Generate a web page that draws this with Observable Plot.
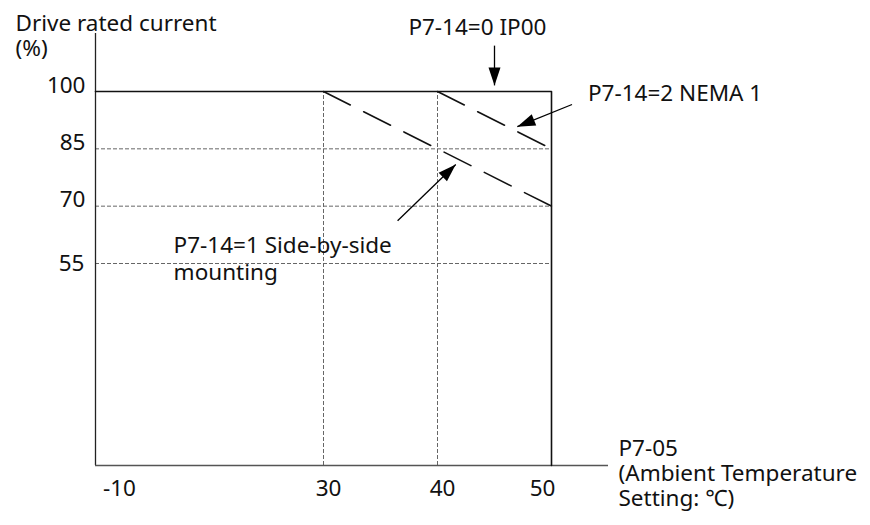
<!DOCTYPE html>
<html><head><meta charset="utf-8">
<script src="https://cdn.jsdelivr.net/npm/d3@7"></script>
<script src="https://cdn.jsdelivr.net/npm/@observablehq/plot@0.6"></script>
<style>body{margin:0;background:#fff} svg{display:block}</style>
</head><body><div id="chart"></div>
<script>
// ---- data ----
const xTicks = [-10, 30, 40, 50];
const yTicks = [100, 85, 70, 55];
const gridX = [30, 40];
const gridY = [85, 70, 55];
const ip00 = [{t: -10, c: 100}, {t: 50, c: 100}, {t: 50, c: 0}];
const nema1 = [{t: 40, c: 100}, {t: 50, c: 85}];
const sideBySide = [{t: 30, c: 100}, {t: 50, c: 70}];
const annotations = [
  {label: "P7-14=0 IP00", tx: 43.5, ty: 114.7, anchor: "middle", x1: 45, y1: 112, x2: 45, y2: 101.6},
  {label: "P7-14=2 NEMA 1", tx: 53.2, ty: 97.6, anchor: "start", x1: 51.8, y1: 96.6, x2: 47.0, y2: 90.8},
  {label: "P7-14=1 Side-by-side\nmounting", tx: 3.7, ty: 50.4, anchor: "start", x1: 36.5, y1: 66.2, x2: 41.6, y2: 80.9}
];
const yTitle = "Drive rated current\n(%)";
const xTitle = "P7-05\n(Ambient Temperature\nSetting: ℃)";

// ---- scales ----
const xOpt = {type: "linear", domain: [-10, 30, 50], range: [95, 323, 551]};
const yOpt = {type: "linear", domain: [0, 55, 100], range: [465, 263, 91]};
const sx = Plot.scale({x: xOpt});
const sy = Plot.scale({y: yOpt});
annotations.forEach(a => {
  const dx = sx.apply(a.x2) - sx.apply(a.x1);
  const dy = sy.apply(a.y2) - sy.apply(a.y1);
  a.rot = Math.atan2(dx, -dy) * 180 / Math.PI;
});
const head = {draw(ctx) { ctx.moveTo(0, 0); ctx.lineTo(6, 18); ctx.lineTo(-6, 18); ctx.closePath(); }};

const FONT = "'Noto Sans','Noto Sans CJK TC',sans-serif";
const FS = 22.5;
const T = {fontSize: FS, fill: "#111"};

const chart = Plot.plot({
  width: 870, height: 525,
  marginTop: 0, marginRight: 0, marginBottom: 0, marginLeft: 0,
  x: {...xOpt, axis: null},
  y: {...yOpt, axis: null},
  style: {fontFamily: FONT, fontSize: FS + "px", background: "#fff", color: "#000"},
  marks: [
    Plot.ruleX(gridX, {y1: 0, y2: 100, stroke: "#666", strokeWidth: 1, strokeDasharray: "4,2"}),
    Plot.ruleY(gridY, {x1: -10, x2: 50, stroke: "#666", strokeWidth: 1, strokeDasharray: "4,2"}),
    Plot.ruleX([-10], {y1: 0, y2: 115.2, stroke: "#222", strokeWidth: 1.3}),
    Plot.ruleY([0], {x1: -10, x2: 55, stroke: "#555", strokeWidth: 1.3}),
    Plot.line(ip00, {x: "t", y: "c", stroke: "#111", strokeWidth: 1.6}),
    Plot.line(nema1, {x: "t", y: "c", stroke: "#111", strokeWidth: 1.6, strokeDasharray: "30,15"}),
    Plot.line(sideBySide, {x: "t", y: "c", stroke: "#111", strokeWidth: 1.6, strokeDasharray: "30,15"}),
    Plot.link(annotations, {x1: "x1", y1: "y1", x2: "x2", y2: "y2", stroke: "#000", strokeWidth: 1.3}),
    Plot.dot(annotations, {x: "x2", y: "y2", symbol: head, rotate: "rot", fill: "#000", stroke: null}),
    Plot.text(annotations.filter(a => a.anchor === "middle"), {x: "tx", y: "ty", text: "label", textAnchor: "middle", lineAnchor: "bottom", ...T}),
    Plot.text(annotations.filter(a => a.anchor === "start"), {x: "tx", y: "ty", text: "label", textAnchor: "start", lineAnchor: "bottom", lineHeight: 27 / FS, ...T}),
    Plot.text(yTicks.filter(d => d !== 55), {x: -10, y: d => d, text: d => String(d), dx: -10, dy: 1, textAnchor: "end", lineAnchor: "bottom", ...T}),
    Plot.text(yTicks.filter(d => d === 55), {x: -10, y: d => d, text: d => String(d), dx: -11, dy: 0, textAnchor: "end", lineAnchor: "middle", ...T}),
    Plot.text(xTicks.filter(d => d === -10), {x: d => d, y: 0, text: d => String(d), dx: 24, dy: 30, textAnchor: "middle", lineAnchor: "bottom", ...T}),
    Plot.text(xTicks.filter(d => d === 30 || d === 40), {x: d => d, y: 0, text: d => String(d), dx: 5, dy: 30, textAnchor: "middle", lineAnchor: "bottom", ...T}),
    Plot.text(xTicks.filter(d => d === 50), {x: d => d, y: 0, text: d => String(d), dx: -9, dy: 30, textAnchor: "middle", lineAnchor: "bottom", ...T}),
    Plot.text([yTitle], {frameAnchor: "top-left", dx: 15, dy: 55, text: d => d, textAnchor: "start", lineAnchor: "bottom", lineHeight: 25 / FS, ...T}),
    Plot.text([xTitle], {frameAnchor: "top-left", dx: 618, dy: 505, text: d => d, textAnchor: "start", lineAnchor: "bottom", lineHeight: 25 / FS, ...T})
  ]
});
document.getElementById("chart").append(chart);
</script></body></html>
